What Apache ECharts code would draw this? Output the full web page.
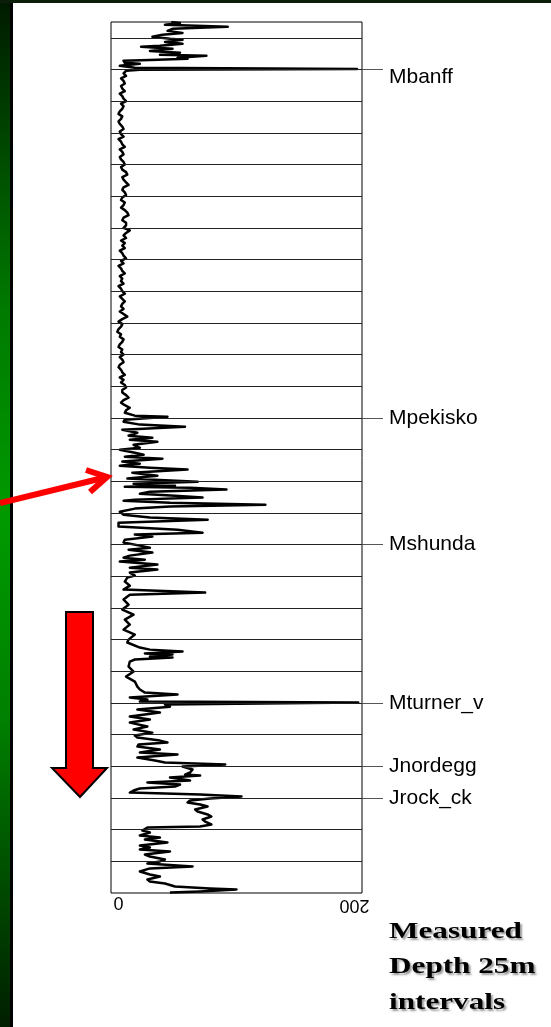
<!DOCTYPE html>
<html><head><meta charset="utf-8">
<script src="https://cdn.jsdelivr.net/npm/echarts@6/dist/echarts.min.js"></script>
<style>html,body{margin:0;padding:0;background:#fff;}#c{width:551px;height:1027px;}</style>
</head><body><div id="c"></div>
<script>
// Measured depth (m, relative to first 25 m grid line) and gamma-ray reading (API)
const depthM = [
-12.5,-11.8,-10.3,-8.7,-7.1,-5.5,-3.9,-2.4,-0.8,0.8,1.6,3.2,4.7,6.3,7.1,8.7,10.3,11.8,13.4,14.2,15.8,16.6,17.4,18.1,19.7,20.5,22.1,23.7,24.5,25.2,26.0,
28,30,32,34,36,38,40,42,44,46,48,50,52,54,56,58,60,62,64,66,68,70,72,74,76,78,80,82,84,86,88,90,92,94,96,98,
100,102,104,106,108,110,112,114,116,118,120,122,124,126,128,130,132,134,136,138,140,142,144,146,148,150,152,154,156,158,
160,162,164,166,168,170,172,174,176,178,180,182,184,186,188,190,192,194,196,198,200,202,204,206,208,210,212,214,216,218,
220,222,224,226,228,230,232,234,236,238,240,242,244,246,248,250,252,254,256,258,260,262,264,266,268,270,272,274,276,278,
280,282,284,286,288,290,292,294,
295.9,298.2,299.0,301.4,303.0,305.3,306.9,309.3,311.7,314.0,315.6,317.2,318.8,321.2,323.6,325.1,327.5,329.1,330.6,332.2,
334.5,336.1,337.7,339.3,340.8,343.2,345.6,347.9,350.3,351.9,353.5,354.3,355.1,356.6,358.2,359.8,361.4,362.9,364.5,365.3,
366.9,368.5,370.0,371.6,374.0,376.4,378.7,380.3,382.7,385.8,388.2,390.6,392.1,393.7,396.1,398.4,400.8,402.4,404.0,406.3,
408.7,410.3,411.9,413.4,415.8,418.2,419.7,422.1,424.5,426.1,429.2,432.4,435.5,437.9,439.5,443.4,
447.4,451.3,455.3,459.2,463.1,467.1,471.0,475.0,477.3,481.3,482.9,484.4,486.0,486.8,488.4,489.2,490.7,492.3,496.3,500.2,
504.2,508.1,512.1,514.4,516.8,518.4,520.7,522.3,523.9,524.7,526.3,527.9,530.2,532.6,535.7,538.1,540.5,543.6,546.0,548.4,
550.7,552.3,554.7,556.2,557.8,559.4,561.8,564.1,565.7,568.1,570.4,572.0,573.6,575.2,577.5,579.9,581.5,582.3,583.9,586.2,
587.8,589.4,591.0,592.5,594.1,595.7,597.3,598.8,600.4,602.0,603.6,605.1,606.7,609.1,610.7,613.0,614.6,617.0,618.6,620.9,
622.5,623.3,625.7,627.3,629.6,631.2,632.8,635.1,637.5,639.1,640.7,642.2,644.6,646.2,648.6,650.1,651.7,654.1,655.6,658.0,
660.4,662.0,664.3,665.9,667.5,669.9,671.4,672.2,673.8,674.6
];
const gammaAPI = [
48,55,43,93,49,45,57,41,33,47,57,43,57,39,24,49,31,55,39,76,53,61,31,10,11,23,7,19,196,23,12,
10,12,8,10,11,8,9,11,7,9,10,12,8,10,9,7,6,9,8,6,7,9,10,7,8,10,6,8,9,11,7,9,10,7,8,10,
11,8,9,12,13,9,10,12,14,10,9,11,12,9,8,11,10,8,11,13,14,10,9,12,12,10,15,12,10,12,
8,11,9,11,7,9,10,12,8,10,6,8,9,11,7,9,8,10,6,8,9,11,7,9,11,9,8,10,7,10,
13,9,6,9,8,6,5,8,7,10,9,7,6,9,8,10,7,9,10,7,6,8,9,11,7,10,8,11,12,9,
9,12,14,10,8,11,15,12,
11,19,45,11,10,23,59,9,21,14,33,15,37,18,23,7,19,26,11,41,
9,23,7,31,61,17,37,13,69,18,51,11,63,92,31,23,51,73,19,10,
47,123,47,19,7,10,31,77,6,6,53,73,19,33,11,10,23,31,14,33,
15,10,27,7,37,15,37,15,19,13,11,15,10,75,15,10,
14,9,18,11,15,10,19,14,13,23,31,57,27,49,31,49,19,15,14,18,
12,19,21,23,27,53,15,29,23,197,43,47,21,39,15,31,15,29,18,33,
19,21,39,45,22,21,39,23,53,21,35,43,91,57,65,63,59,71,47,63,
29,55,51,23,18,15,71,104,79,63,61,71,77,67,69,77,80,73,75,80,
71,29,25,31,23,39,27,45,23,31,23,47,27,31,43,39,29,65,31,23,
31,39,29,31,43,51,79,100,71,47
];
const gridDepths = [0,25,50,75,100,125,150,175,200,225,250,275,300,325,350,375,400,425,450,475,500,525,550,575,600,625,650];
const topNames = ['Mbanff','Mpekisko','Mshunda','Mturner_v','Jnordegg','Jrock_ck'];
const topDepths = [25,300,400,525,575,600];
const xTickLabels = [0,200];
const depthRange = [-12.5, 675];
const captionText = 'Measured\nDepth 25m\nintervals';

const n = Math.min(depthM.length, gammaAPI.length);
const logData = [];
for (let i = 0; i < n; i++) logData.push([gammaAPI[i], depthM[i]]);

const chart = echarts.init(document.getElementById('c'), null, {renderer:'canvas'});
const lblBase = {fontSize:18, color:'#000', fontFamily:'Liberation Sans, Arial, sans-serif', margin:3};
chart.setOption({
  animation:false,
  backgroundColor:'#fff',
  grid:[
    {left:111, top:22, width:251, height:871, show:true, borderColor:'#000', borderWidth:1, backgroundColor:'#fff'},
    {left:362, top:22, width:21, height:871}
  ],
  xAxis:[
    {gridIndex:0, type:'value', position:'bottom', min:xTickLabels[0], max:xTickLabels[1], interval:200,
     axisLine:{show:false}, axisTick:{show:false}, splitLine:{show:false},
     axisLabel:Object.assign({}, lblBase, {formatter:v => v === xTickLabels[0] ? String(v) : '', padding:[0,0,0,15]})},
    {gridIndex:0, type:'value', position:'bottom', min:xTickLabels[0], max:xTickLabels[1], interval:200,
     axisLine:{show:false}, axisTick:{show:false}, splitLine:{show:false},
     axisLabel:Object.assign({}, lblBase, {rotate:180, formatter:v => v === xTickLabels[1] ? String(v) : '', padding:[0,0,0,15]})},
    {gridIndex:1, type:'value', min:0, max:1, show:false}
  ],
  yAxis:[
    {gridIndex:0, type:'value', inverse:true, min:depthRange[0], max:depthRange[1], show:false},
    {gridIndex:1, type:'value', inverse:true, min:depthRange[0], max:depthRange[1], show:false}
  ],
  series:[
    {type:'line', xAxisIndex:0, yAxisIndex:0, data:[[0,0]], showSymbol:false, lineStyle:{opacity:0}, z:1, silent:true,
     markLine:{silent:true, symbol:'none', label:{show:false}, lineStyle:{color:'#222', width:1, type:'solid'},
       data:gridDepths.map(d => ({yAxis:d}))}},
    {type:'line', xAxisIndex:0, yAxisIndex:0, data:logData, showSymbol:false, z:3,
     lineStyle:{color:'#000', width:2.5, join:'round'}},
    {type:'line', xAxisIndex:2, yAxisIndex:1, data:topDepths.map(d => [0,d]), showSymbol:false, lineStyle:{opacity:0}, silent:true,
     markLine:{silent:true, symbol:'none', lineStyle:{color:'#555', width:1, type:'solid'},
       label:{show:true, position:'end', formatter:'{b}', distance:6, fontSize:21, color:'#000', fontFamily:'Liberation Sans, Arial, sans-serif'},
       data:topNames.map((nm,i) => [
         {coord:[0, topDepths[i]], name:nm, label: i === 0 ? {offset:[0,8]} : {}},
         {coord:[1, topDepths[i]]}
       ])}}
  ],
  graphic:[
    {type:'rect', z:100, shape:{x:0, y:0, width:10, height:1027},
     style:{fill:new echarts.graphic.LinearGradient(0,0,0,1,[
       {offset:0, color:'#001a00'},{offset:0.3, color:'#007a00'},{offset:0.5, color:'#009a00'},
       {offset:0.7, color:'#008000'},{offset:1, color:'#001e00'}])}},
    {type:'rect', z:100, shape:{x:10, y:0, width:3, height:1027}, style:{fill:'#000'}},
    {type:'rect', z:100, shape:{x:0, y:0, width:551, height:3}, style:{fill:'#0a1e0a'}},
    {type:'line', z:101, shape:{x1:0, y1:503, x2:107, y2:477}, style:{stroke:'#ff0000', lineWidth:6}},
    {type:'polyline', z:101, shape:{points:[[86,470],[107,477],[90,492]]}, style:{stroke:'#ff0000', lineWidth:6, fill:null, lineJoin:'miter'}},
    {type:'polygon', z:101, shape:{points:[[66,612],[93,612],[93,768],[107,768],[80,797],[52,768],[66,768]]},
     style:{fill:'#ff0000', stroke:'#000', lineWidth:2}},
    {type:'text', z:101, x:389, y:914, scaleX:1.3,
     style:{text:captionText, x:0, y:0, font:'bold 24px "Liberation Serif", "Times New Roman", serif', fill:'#000',
       lineHeight:35.5, textVerticalAlign:'top', textShadowColor:'rgba(0,0,0,0.4)', textShadowBlur:2, textShadowOffsetX:2, textShadowOffsetY:2}}
  ]
});
</script></body></html>
